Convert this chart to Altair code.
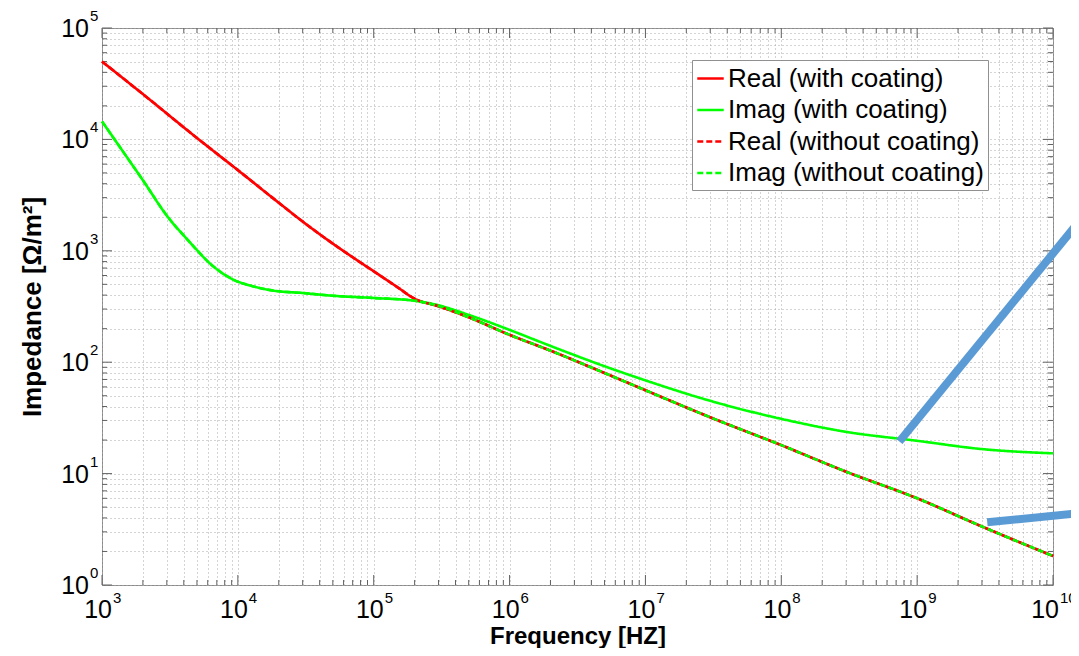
import altair as alt
import pandas as pd

# ---------------- data ----------------
series_names = ["Real (with coating)", "Imag (with coating)",
                "Real (without coating)", "Imag (without coating)"]
series_colors = ["#ff0000", "#00ff00", "#ff0000", "#00ff00"]
series_dashes = [[1, 0], [1, 0], [6, 3], [6, 3]]

freq_real = [1e3, 2e3, 5e3, 1e4, 2e4, 3e4, 5e4, 7e4, 1e5, 1.5e5, 2e5, 3e5, 5e5,
             1e6, 2e6, 5e6, 1e7, 3e7, 1e8, 3e8, 1e9, 3e9, 1e10]
real_with = [50000, 25500, 10300, 5300, 2700, 1830, 1160, 875, 655, 470, 371, 318, 253,
             176, 127, 80, 56, 32, 18.0, 10.4, 6.0, 3.35, 1.82]
real_without = [50000, 25500, 10300, 5300, 2700, 1830, 1160, 875, 655, 470, 371, 318, 253,
                176, 127, 80, 56, 32, 18.0, 10.4, 6.0, 3.35, 1.82]

freq_imag = [1e3, 1.45e3, 2e3, 3e3, 4.5e3, 6.3e3, 9e3, 1.25e4, 1.85e4, 3e4, 5e4, 1e5, 2e5,
             3e5, 5e5, 1e6, 2e6, 5e6, 1e7, 3e7, 1e8, 3e8, 1e9, 3e9, 1e10]
imag_with = [14500, 7570, 4300, 2070, 1170, 760, 560, 485, 438, 418, 395, 377, 356,
             324, 266, 195, 140, 92, 68.7, 45, 31, 23.7, 19.7, 16.6, 15.2]
imag_without = [14500, 7570, 4300, 2070, 1170, 760, 560, 485, 438, 418, 395, 377, 356,
                320, 253, 176, 127, 80, 56, 32, 18.0, 10.4, 6.0, 3.35, 1.82]

# blue annotation strokes (two segments)
blue_seg = [1, 1, 2, 2]
blue_f = [7.4e8, 1.78e10, 3.28e9, 1.78e10]
blue_z = [19.4, 2240, 3.66, 4.48]

# axis ticks / labels
x_exponents = [3, 4, 5, 6, 7, 8, 9, 10]
y_exponents = [0, 1, 2, 3, 4, 5]
x_major = [10.0 ** k for k in x_exponents]
y_major = [10.0 ** k for k in y_exponents]
x_minor = [m * 10.0 ** k for k in x_exponents[:-1] for m in range(2, 10)]
y_minor = [m * 10.0 ** k for k in y_exponents[:-1] for m in range(2, 10)]

# ---------------- chart ----------------
W, H = 951, 557
FONT = "Liberation Sans"
xs = alt.Scale(type="log", domain=[1e3, 1e10], nice=False)
ys = alt.Scale(type="log", domain=[1, 1e5], nice=False)

legend = alt.Legend(
    title=None, orient="none", legendX=590, legendY=32,
    labelFont=FONT, labelFontSize=26, labelColor="black", labelOffset=3,
    symbolType="stroke", symbolSize=700, symbolStrokeWidth=2.5,
    rowPadding=3.5, padding=4, strokeColor="#909090", fillColor="white",
    labelLimit=400,
)
color_scale = alt.Scale(domain=series_names, range=series_colors)
dash_scale = alt.Scale(domain=series_names, range=series_dashes)

x_axis = alt.Axis(values=sorted(x_major + x_minor), grid=True, labels=False, ticks=False,
                  domain=False, title="Frequency [HZ]", titleFont=FONT, titleFontSize=24,
                  titleFontWeight="bold", titleColor="black", titlePadding=39)
y_axis = alt.Axis(values=sorted(y_major + y_minor), grid=True, labels=False, ticks=False,
                  domain=False, title="Impedance [Ω/m²]", titleFont=FONT, titleFontSize=26,
                  titleFontWeight="bold", titleColor="black", titlePadding=57)

# base layer carrying the axes (grid)
axis_df = pd.DataFrame({"f": [1e3, 1e10], "z": [1, 1e5]})
base = alt.Chart(axis_df).mark_point(opacity=0).encode(
    x=alt.X("f:Q", scale=xs, axis=x_axis),
    y=alt.Y("z:Q", scale=ys, axis=y_axis),
)

layers = [base]

# tick marks drawn inward
tick_col = "#606060"
def xticks(vals, length):
    df = pd.DataFrame({"f": vals})
    bot = alt.Chart(df).mark_rule(color=tick_col, strokeWidth=1).encode(
        x=alt.X("f:Q", scale=xs), y=alt.value(H), y2=alt.value(H - length))
    top = alt.Chart(df).mark_rule(color=tick_col, strokeWidth=1).encode(
        x=alt.X("f:Q", scale=xs), y=alt.value(0), y2=alt.value(length))
    return [bot, top]

def yticks(vals, length):
    df = pd.DataFrame({"z": vals})
    left = alt.Chart(df).mark_rule(color=tick_col, strokeWidth=1).encode(
        y=alt.Y("z:Q", scale=ys), x=alt.value(0), x2=alt.value(length))
    right = alt.Chart(df).mark_rule(color=tick_col, strokeWidth=1).encode(
        y=alt.Y("z:Q", scale=ys), x=alt.value(W), x2=alt.value(W - length))
    return [left, right]

layers += xticks(x_major, 10) + xticks(x_minor, 5) + yticks(y_major, 10) + yticks(y_minor, 5)

# curves
curve_data = [
    (series_names[0], freq_real, real_with),
    (series_names[1], freq_imag, imag_with),
    (series_names[2], freq_real, real_without),
    (series_names[3], freq_imag, imag_without),
]
for name, fr, vals in curve_data:
    df = pd.DataFrame({"f": fr, "z": vals, "series": name})
    layers.append(
        alt.Chart(df).mark_line(strokeWidth=2.6, interpolate="monotone").encode(
            x=alt.X("f:Q", scale=xs),
            y=alt.Y("z:Q", scale=ys),
            color=alt.Color("series:N", scale=color_scale, legend=legend),
            strokeDash=alt.StrokeDash("series:N", scale=dash_scale, legend=legend),
        )
    )

# tick labels: "10" with raised exponent
def xlabels(exps, dx_base):
    df = pd.DataFrame({"f": [10.0 ** k for k in exps], "base": "10",
                       "exp": [str(k) for k in exps]})
    b = alt.Chart(df).mark_text(align="right", baseline="alphabetic", font=FONT,
                                fontSize=25, color="black", dx=dx_base).encode(
        x=alt.X("f:Q", scale=xs), y=alt.value(H + 33), text="base:N")
    e = alt.Chart(df).mark_text(align="left", baseline="alphabetic", font=FONT,
                                fontSize=15, color="black", dx=dx_base + 1).encode(
        x=alt.X("f:Q", scale=xs), y=alt.value(H + 18), text="exp:N")
    return [b, e]

layers += xlabels(x_exponents[:-1], 10) + xlabels(x_exponents[-1:], 6)

ydf = pd.DataFrame({"z": y_major, "base": "10", "exp": [str(k) for k in y_exponents]})
layers.append(alt.Chart(ydf).mark_text(align="right", baseline="middle", font=FONT,
                                       fontSize=25, color="black", dy=1).encode(
    y=alt.Y("z:Q", scale=ys), x=alt.value(-13), text="base:N"))
layers.append(alt.Chart(ydf).mark_text(align="left", baseline="alphabetic", font=FONT,
                                       fontSize=15, color="black", dy=-7).encode(
    y=alt.Y("z:Q", scale=ys), x=alt.value(-12), text="exp:N"))

# blue annotation strokes
bdf = pd.DataFrame({"f": blue_f, "z": blue_z, "seg": blue_seg})
layers.append(alt.Chart(bdf).mark_line(color="#5b9bd5", strokeWidth=8, clip=False).encode(
    x=alt.X("f:Q", scale=xs), y=alt.Y("z:Q", scale=ys), detail="seg:N"))

chart = alt.layer(*layers).properties(
    width=W, height=H,
    autosize=alt.AutoSizeParams(type="none"),
    padding={"left": 94, "top": 20, "right": 18, "bottom": 63},
).configure_view(
    stroke="#8a8a8a", strokeWidth=1
).configure_axis(
    gridColor="#a8a8a8", gridDash=[1, 3], gridWidth=1, gridOpacity=1
)

chart.save("out.html", embed_options={"renderer": "svg", "actions": False})
